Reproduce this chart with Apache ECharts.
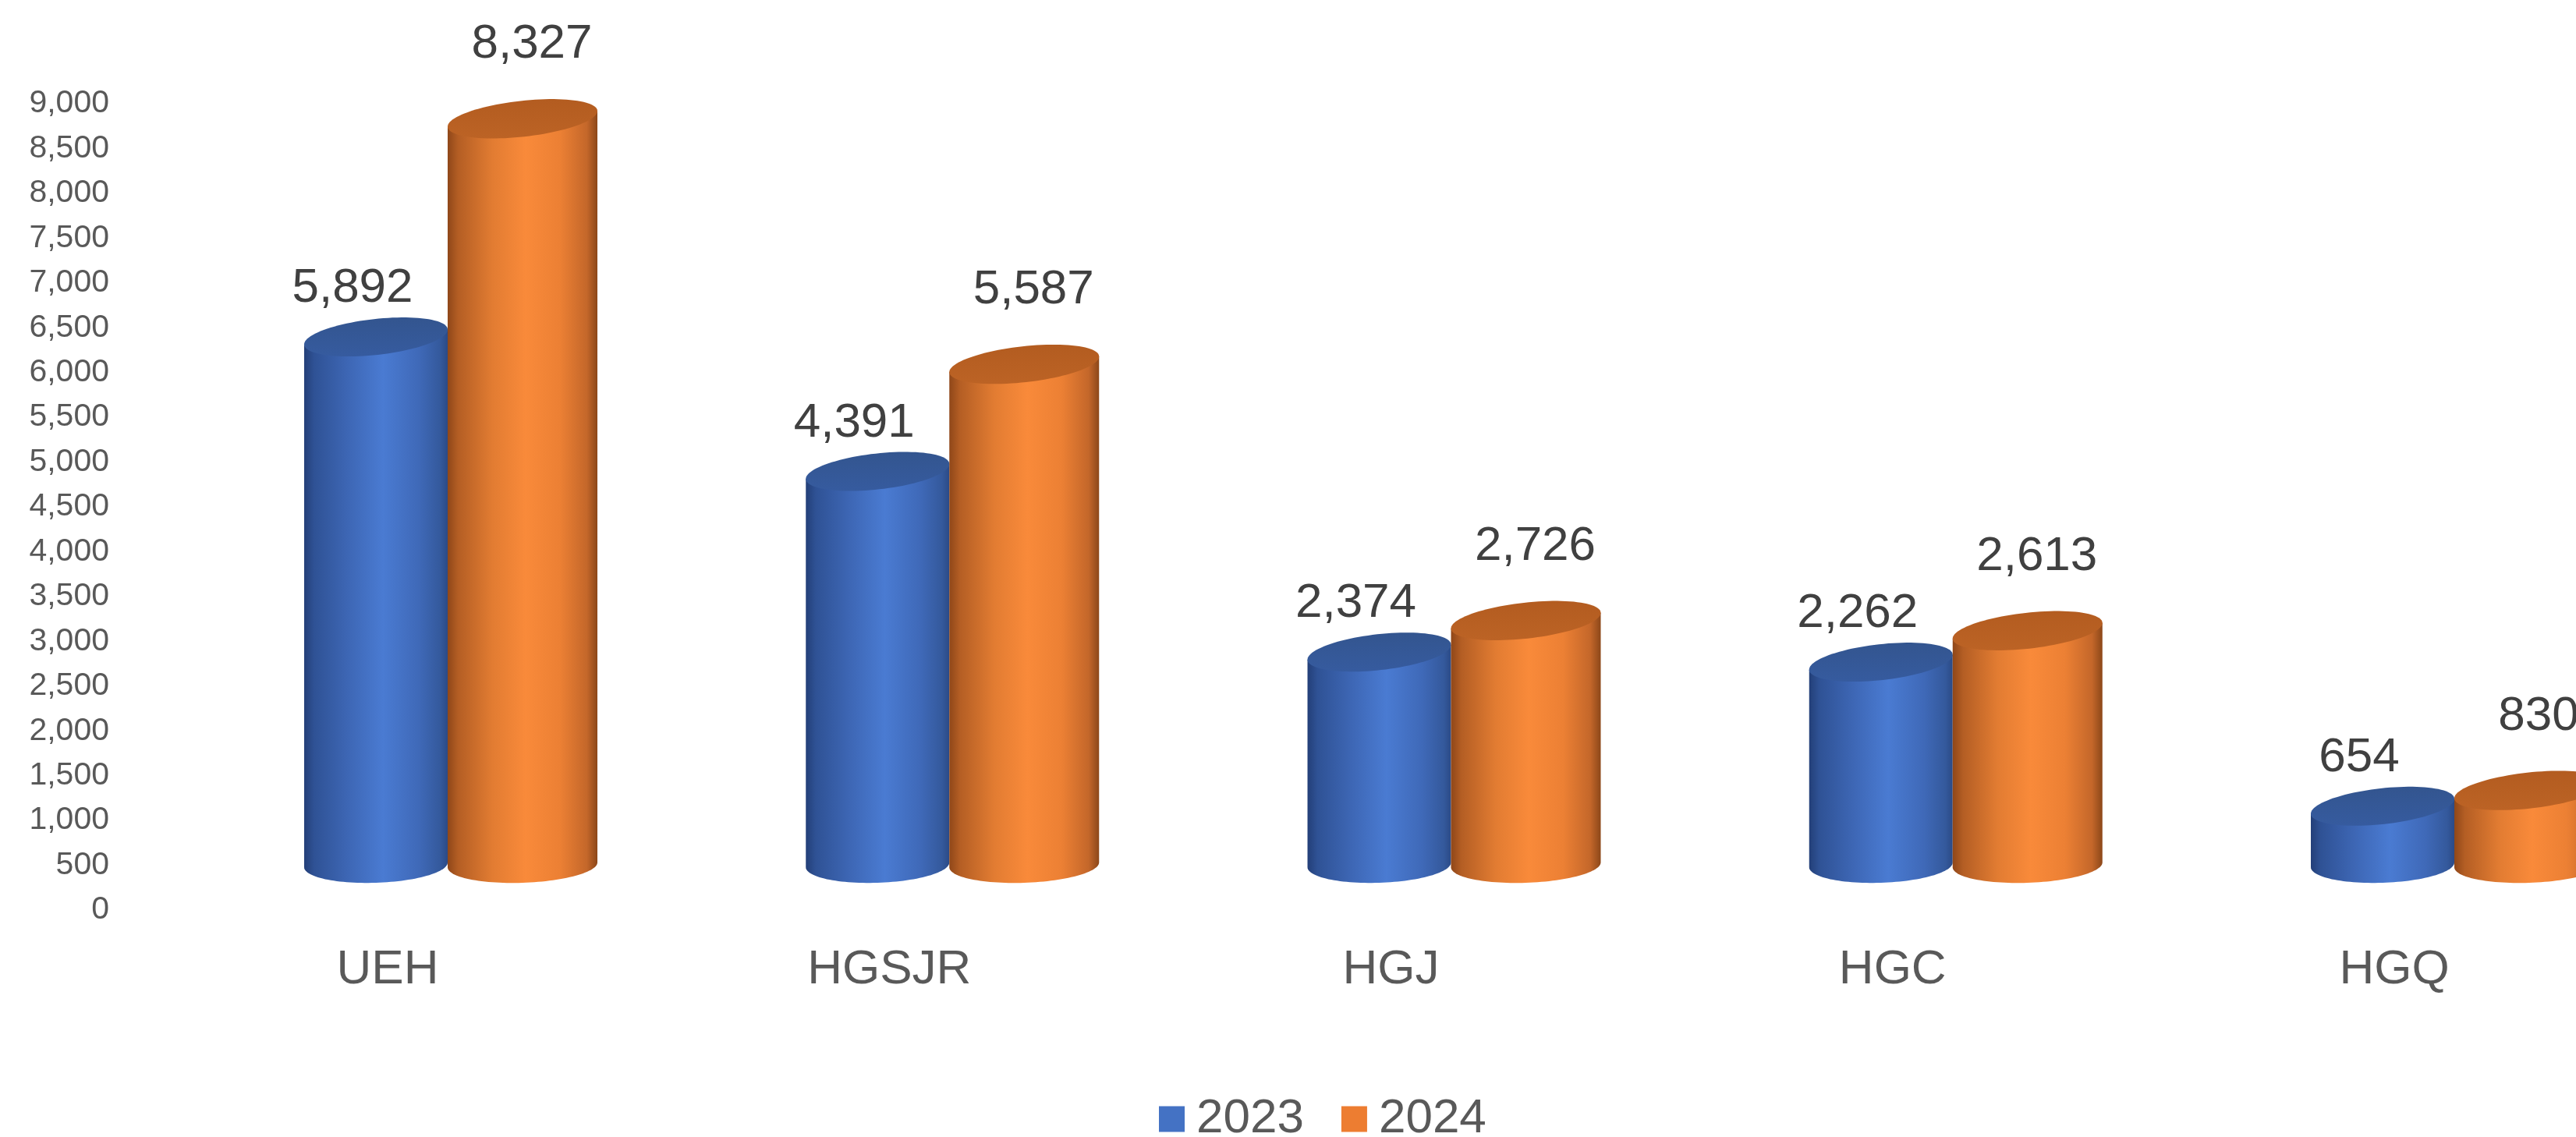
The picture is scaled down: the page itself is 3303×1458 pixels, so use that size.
<!DOCTYPE html>
<html>
<head>
<meta charset="utf-8">
<title>2023 – 2024</title>
<script src="https://cdn.jsdelivr.net/npm/echarts@6/dist/echarts.min.js"></script>
<style>
  html, body { margin: 0; padding: 0; background: #ffffff; }
  #chart { width: 3303px; height: 1458px; }
</style>
</head>
<body>
<div id="chart"></div>
<script>
// Categories and yearly values
const categories = ['UEH', 'HGSJR', 'HGJ', 'HGC', 'HGQ'];
const seriesNames = ['2023', '2024'];
const values2023 = [5892, 4391, 2374, 2262, 654];
const values2024 = [8327, 5587, 2726, 2613, 830];

// Value axis range and step
const axisMin = 0;
const axisMax = 9000;
const axisStep = 500;

const FONT = "'Liberation Sans', Arial, Helvetica, sans-serif";

// Point on a tilted ellipse (tilt is a visual counter-clockwise angle)
function ellipsePoint(cx, cy, a, b, phi, t) {
  const x = a * Math.cos(t), y = b * Math.sin(t);
  return [cx + x * Math.cos(phi) + y * Math.sin(phi),
          cy - x * Math.sin(phi) + y * Math.cos(phi)];
}

// Semi-major axis so that the tilted ellipse spans exactly +-halfW horizontally
function majorFor(halfW, b, phi) {
  const s = Math.sin(phi), c = Math.cos(phi);
  return Math.sqrt((halfW * halfW - b * b * s * s) / (c * c));
}

function cylinderRenderer(opt) {
  return function (params, api) {
    const idx = api.value(0);
    const val = api.value(1);
    const topPt = api.coord([idx, val]);
    const basePt = api.coord([idx, 0]);
    const cx = topPt[0] + opt.dx;
    const W = opt.halfW;
    const b = opt.ry;

    const phiT = opt.tiltTop, phiB = opt.tiltBottom;
    const aT = majorFor(W, b, phiT);
    const aB = majorFor(W, b, phiB);
    const tyc = topPt[1], byc = basePt[1];

    // tangent parameters (rightmost points) for each ellipse
    const trT = Math.atan2(b * Math.sin(phiT), aT * Math.cos(phiT));
    const trB = Math.atan2(b * Math.sin(phiB), aB * Math.cos(phiB));

    // top face
    const topPts = [];
    for (let k = 0; k < 96; k++) {
      topPts.push(ellipsePoint(cx, tyc, aT, b, phiT, k / 96 * Math.PI * 2));
    }

    // body: left side, lower arc of the base, right side
    const bodyPts = [];
    bodyPts.push(ellipsePoint(cx, tyc, aT, b, phiT, trT + Math.PI));
    const steps = 60;
    for (let k = 0; k <= steps; k++) {
      const t = (trB + Math.PI) - (k / steps) * Math.PI;
      bodyPts.push(ellipsePoint(cx, byc, aB, b, phiB, t));
    }
    bodyPts.push(ellipsePoint(cx, tyc, aT, b, phiT, trT));

    const bodyFill = new echarts.graphic.LinearGradient(0, 0, 1, 0, opt.bodyStops);
    const topFill = new echarts.graphic.LinearGradient(0, 0, 0, 1, opt.topStops);

    return {
      type: 'group',
      children: [
        { type: 'polygon', shape: { points: bodyPts }, style: { fill: bodyFill } },
        { type: 'polygon', shape: { points: topPts }, style: { fill: topFill } },
        {
          type: 'text',
          z2: 10,
          style: {
            text: val.toLocaleString('en-US'),
            x: cx + opt.labelDx,
            y: tyc - opt.labelDy,
            align: 'center',
            verticalAlign: 'middle',
            fontSize: 62,
            fontFamily: FONT,
            fill: '#404040'
          }
        }
      ]
    };
  };
}

const blueStyle = {
  dx: -92, halfW: 92, ry: 23, tiltTop: 0.11, tiltBottom: 0.035,
  labelDx: -30, labelDy: 62,
  bodyStops: [
    { offset: 0, color: '#233f78' },
    { offset: 0.07, color: '#2f5295' },
    { offset: 0.3, color: '#3d66b4' },
    { offset: 0.55, color: '#4a7bd2' },
    { offset: 0.8, color: '#3f69b8' },
    { offset: 0.95, color: '#34599c' },
    { offset: 1, color: '#2b4a86' }
  ],
  topStops: [
    { offset: 0, color: '#33558f' },
    { offset: 1, color: '#365b9f' }
  ]
};

const orangeStyle = {
  dx: 96, halfW: 96, ry: 23, tiltTop: 0.11, tiltBottom: 0.035,
  labelDx: 12, labelDy: 95,
  bodyStops: [
    { offset: 0, color: '#8f4719' },
    { offset: 0.07, color: '#b45e24' },
    { offset: 0.3, color: '#e27c32' },
    { offset: 0.52, color: '#f98a3a' },
    { offset: 0.75, color: '#ec8034' },
    { offset: 0.93, color: '#c4672a' },
    { offset: 1, color: '#8c4719' }
  ],
  topStops: [
    { offset: 0, color: '#b35c20' },
    { offset: 1, color: '#bc6325' }
  ]
};

const toPairs = arr => arr.map((v, i) => [i, v]);

const chart = echarts.init(document.getElementById('chart'), null, { renderer: 'canvas' });

chart.setOption({
  backgroundColor: '#ffffff',
  animation: false,
  textStyle: { fontFamily: FONT },
  // categories sit on the ticks; the first and last groups are centred on the grid edges
  grid: { left: 574, top: 133, width: 2573, height: 1034 },
  legend: {
    data: seriesNames,
    left: 1486,
    top: 1404,
    padding: 0,
    icon: 'rect',
    itemWidth: 33,
    itemHeight: 33,
    itemGap: 48,
    textStyle: {
      fontSize: 62,
      fontFamily: FONT,
      color: '#595959',
      padding: [0, 0, 0, 10]
    }
  },
  xAxis: {
    type: 'category',
    data: categories,
    boundaryGap: false,
    axisLine: { show: false },
    axisTick: { show: false },
    splitLine: { show: false },
    axisLabel: {
      fontSize: 62,
      fontFamily: FONT,
      color: '#595959',
      margin: 46,
      padding: [0, 154, 0, 0]
    }
  },
  yAxis: [
    {
      type: 'value',
      min: axisMin,
      max: axisMax,
      interval: axisStep,
      axisLine: { show: false },
      axisTick: { show: false },
      splitLine: { show: false },
      axisLabel: {
        fontSize: 41,
        fontFamily: FONT,
        color: '#595959',
        margin: 434,
        formatter: v => v.toLocaleString('en-US')
      }
    },
    {
      // floor of the 3D plot sits above the printed zero line
      type: 'value',
      show: false,
      min: axisMin - 505,
      max: axisMax - 505
    }
  ],
  series: [
    {
      name: seriesNames[0],
      type: 'custom',
      yAxisIndex: 1,
      itemStyle: { color: '#4472c4' },
      renderItem: cylinderRenderer(blueStyle),
      data: toPairs(values2023)
    },
    {
      name: seriesNames[1],
      type: 'custom',
      yAxisIndex: 1,
      itemStyle: { color: '#ed7d31' },
      renderItem: cylinderRenderer(orangeStyle),
      data: toPairs(values2024)
    }
  ]
});
</script>
</body>
</html>
